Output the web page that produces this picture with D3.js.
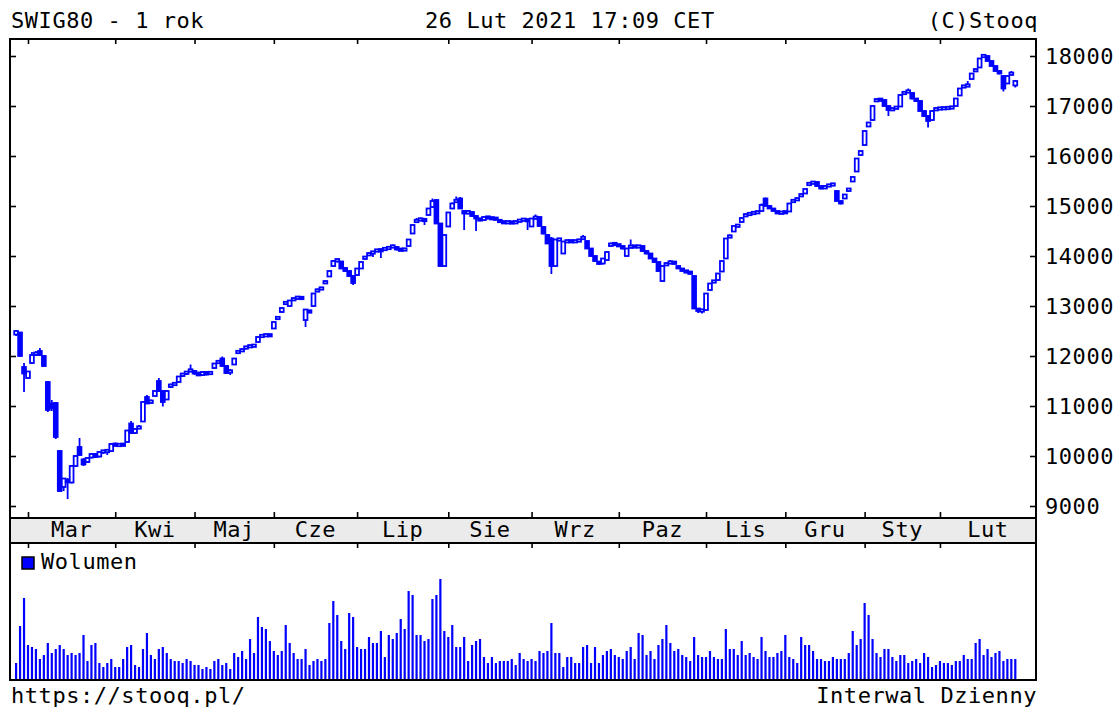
<!DOCTYPE html>
<html>
<head>
<meta charset="utf-8">
<script src="https://cdn.jsdelivr.net/npm/d3@7"></script>
<style>
  body { margin: 0; background: #fff; }
  text { font-family: "DejaVu Sans Mono", monospace; font-size: 22px; letter-spacing: 0.55px; fill: #000; }
</style>
</head>
<body>
<script>
var width = 1117,
    height = 709;

// month labels and the index of the first session in each month
var monthNames = ["Mar", "Kwi", "Maj", "Cze", "Lip", "Sie", "Wrz", "Paz", "Lis", "Gru", "Sty", "Lut"];
var monthStart = [3, 25, 45, 65, 86, 109, 130, 152, 174, 194, 214, 233];
var priceTicks = [9000, 10000, 11000, 12000, 13000, 14000, 15000, 16000, 17000, 18000];

// daily candles [open, high, low, close]
var feb20 = [[12430,12520,12400,12500],[12470,12480,11990,12000],[11780,11860,11280,11650]];
var mar20 = [[11560,11700,11540,11690],[11860,12080,11840,12020],[12030,12100,12000,12060],[12100,12160,12000,12020],
  [12000,12020,11780,11800],[11480,11500,10880,10920],[11050,11120,10900,10960],[11060,11080,10340,10380],
  [10100,10110,9280,9300],[9380,9560,9300,9550],[9520,9560,9140,9480],[9470,9820,9450,9800],
  [9800,10010,9780,10000],[10180,10360,10000,10020],[9930,9960,9800,9830],[9880,9980,9860,9960],
  [9970,10060,9950,10040],[10040,10060,9960,9980],[9990,10090,9970,10080],[10080,10120,10040,10100],
  [10090,10130,10020,10110],[10100,10260,10090,10240]];
var apr20 = [[10240,10270,10190,10210],[10210,10250,10180,10230],[10230,10260,10200,10220],[10280,10520,10270,10510],
  [10650,10700,10440,10460],[10460,10560,10440,10540],[10560,10620,10540,10580],[10690,11090,10680,11080],
  [11180,11220,11040,11050],[11060,11130,11050,11110],[11200,11310,11190,11300],[11500,11560,11280,11300],
  [11300,11320,10990,11080],[11130,11320,11120,11300],[11380,11450,11360,11430],[11430,11470,11400,11450],
  [11480,11600,11470,11590],[11600,11660,11580,11650],[11650,11700,11620,11680],[11700,11830,11680,11720]];
var may20 = [[11700,11720,11620,11650],[11650,11690,11600,11620],[11620,11700,11600,11680],[11680,11700,11610,11630],
  [11640,11700,11620,11680],[11760,11860,11740,11850],[11860,11920,11840,11900],[11950,11990,11780,11800],
  [11800,11820,11640,11660],[11680,11740,11620,11700],[11830,11960,11820,11950],[12060,12120,12040,12100],
  [12100,12150,12080,12130],[12150,12200,12130,12190],[12190,12220,12170,12200],[12200,12230,12180,12210],
  [12280,12390,12270,12380],[12390,12430,12370,12410],[12410,12440,12390,12420],[12420,12440,12390,12410]];
var jun20 = [[12550,12690,12540,12680],[12740,12800,12730,12780],[12880,12970,12870,12960],[13040,13100,13020,13080],
  [13000,13120,12990,13110],[13120,13170,13100,13150],[13150,13200,13130,13180],[13180,13190,13120,13140],
  [12720,12940,12580,12930],[12900,12920,12860,12880],[13000,13260,12990,13250],[13290,13350,13280,13330],
  [13340,13380,13320,13360],[13460,13510,13450,13490],[13590,13710,13580,13700],[13800,13920,13780,13900],
  [13900,13950,13870,13930],[13890,13900,13740,13750],[13760,13780,13680,13700],[13700,13720,13580,13600],
  [13600,13620,13420,13460]];
var jul20 = [[13620,13760,13600,13750],[13750,13890,13740,13880],[13950,14000,13930,13980],[14020,14070,14000,14050],
  [14060,14100,13980,14080],[14100,14140,14080,14120],[14120,14150,13960,14110],[14130,14170,14110,14150],
  [14150,14190,14140,14170],[14180,14230,14160,14200],[14180,14200,14110,14130],[14130,14150,14100,14120],
  [14110,14160,14100,14150],[14200,14340,14190,14330],[14450,14630,14440,14620],[14680,14760,14660,14720],
  [14720,14770,14700,14740],[14740,14760,14620,14700],[14820,14960,14810,14950],[14980,15150,14970,15100],
  [15120,15130,14640,14650],[14650,14660,13790,13800],[13800,14430,13790,14420]];
var aug20 = [[14590,14880,14580,14870],[14950,15070,14940,15050],[15080,15190,15060,15120],[15150,15180,14940,14950],
  [14900,14920,14520,14850],[14850,14920,14830,14900],[14880,14890,14780,14800],[14800,14820,14500,14750],
  [14740,14760,14700,14720],[14720,14800,14710,14780],[14780,14800,14740,14760],[14760,14780,14730,14750],
  [14750,14770,14720,14740],[14720,14730,14660,14680],[14680,14700,14650,14670],[14670,14700,14660,14680],
  [14680,14690,14640,14660],[14660,14710,14650,14690],[14690,14740,14680,14720],[14720,14750,14700,14730],
  [14730,14740,14520,14700]];
var sep20 = [[14590,14760,14580,14750],[14750,14830,14740,14780],[14780,14790,14580,14600],[14580,14600,14430,14450],
  [14420,14440,14240,14250],[14350,14380,13640,13800],[13800,14340,13790,14330],[14330,14360,14300,14330],
  [14050,14300,14040,14290],[14290,14320,14270,14300],[14300,14320,14270,14290],[14290,14320,14280,14300],
  [14300,14340,14290,14320],[14340,14420,14330,14380],[14300,14310,14140,14150],[14150,14160,13990,14000],
  [14000,14010,13890,13900],[13880,13900,13820,13850],[13850,13960,13830,13950],[13920,14090,13910,14080],
  [14200,14270,14190,14250],[14250,14260,14210,14230]];
var oct20 = [[14230,14240,14180,14200],[14200,14210,14130,14150],[14000,14160,13990,14150],[14170,14330,14160,14200],
  [14200,14220,14160,14180],[14180,14220,14170,14200],[14200,14210,14080,14100],[14100,14110,14030,14050],
  [14050,14060,13940,13950],[13950,13960,13860,13880],[13880,13890,13680,13700],[13500,13810,13480,13800],
  [13820,13870,13810,13850],[13860,13920,13850,13880],[13880,13890,13830,13850],[13800,13810,13740,13750],
  [13750,13760,13690,13700],[13700,13720,13670,13680],[13680,13700,13630,13650],[13600,13620,12940,12950],
  [12950,12960,12860,12900],[12900,12940,12850,12920]];
var nov20 = [[12920,13260,12910,13250],[13320,13460,13310,13450],[13480,13520,13470,13500],[13520,13660,13510,13650],
  [13690,13910,13680,13900],[13950,14360,13940,14350],[14380,14430,14360,14400],[14490,14610,14480,14600],
  [14600,14640,14580,14610],[14680,14770,14670,14760],[14800,14850,14790,14830],[14830,14870,14820,14850],
  [14850,14890,14840,14870],[14870,14900,14860,14880],[14900,15050,14890,15020],[15150,15170,14990,15000],
  [15000,15020,14940,14950],[14950,14960,14890,14900],[14900,14910,14840,14850],[14850,14900,14840,14880]];
var dec20 = [[14880,14900,14850,14870],[14890,15060,14880,15050],[15080,15140,15070,15120],[15120,15170,15110,15150],
  [15200,15250,15190,15230],[15250,15350,15240,15340],[15420,15480,15410,15460],[15460,15490,15450,15470],
  [15480,15490,15390,15400],[15400,15410,15330,15350],[15350,15420,15340,15400],[15400,15440,15390,15420],
  [15420,15460,15400,15440],[15300,15310,15090,15100],[15100,15110,15030,15050],[15150,15240,15140,15230],
  [15300,15360,15290,15350],[15490,15590,15480,15580],[15690,15960,15680,15950],[16020,16110,16010,16100]];
var jan21 = [[16220,16510,16210,16500],[16590,16680,16580,16670],[16720,17010,16710,17000],[17100,17150,17080,17130],
  [17130,17160,17100,17120],[17120,17130,16990,17000],[17000,17010,16800,16920],[16920,16970,16900,16950],
  [16950,17000,16940,16980],[16990,17230,16980,17220],[17240,17300,17230,17280],[17280,17350,17270,17300],
  [17260,17270,17130,17150],[17150,17160,17080,17100],[17100,17110,16890,16900],[16900,16910,16780,16800],
  [16800,16820,16570,16700],[16720,16910,16710,16900],[16920,16970,16910,16950]];
var feb21 = [[16950,16970,16930,16950],[16950,16980,16940,16960],[16960,16980,16940,16960],[16960,17000,16950,16980],
  [17000,17160,16990,17150],[17210,17360,17200,17350],[17380,17420,17370,17400],[17400,17500,17390,17420],
  [17540,17660,17530,17650],[17700,17750,17690,17730],[17770,17960,17760,17950],[17980,18040,17970,18020],
  [18000,18010,17890,17900],[17900,17910,17790,17800],[17800,17810,17690,17700],[17700,17720,17630,17650],
  [17600,17610,17290,17350],[17450,17610,17440,17600],[17640,17700,17620,17650],[17410,17510,17370,17500]];

// daily volume (relative units, no scale printed on the chart)
var volume = [16,53,81,34,32,30,20,24,36,26,30,34,30,24,26,24,26,44,18,34,36,16,12,16,20,
  12,12,20,32,34,14,12,30,46,24,20,30,32,26,20,18,18,16,20,18,14,14,10,12,10,18,20,14,16,10,
  26,22,28,20,40,26,62,52,50,38,28,24,28,54,36,26,20,20,30,14,18,20,18,20,56,78,64,38,30,66,
  62,32,30,30,42,36,36,48,22,44,40,46,60,50,88,84,44,44,38,40,80,84,100,48,42,54,32,32,42,18,
  34,38,40,22,16,22,16,18,18,18,20,14,26,20,18,20,18,28,26,28,56,26,26,
  12,22,22,16,16,32,34,16,32,16,24,28,30,24,22,20,28,32,20,46,44,24,28,20,34,40,54,36,28,30,
  24,22,18,42,24,22,22,28,22,20,20,50,30,30,24,38,24,26,22,20,42,28,22,22,26,28,44,22,20,16,
  42,34,34,28,20,20,18,18,22,20,20,20,26,48,34,40,76,64,40,26,22,30,30,22,18,24,24,16,18,20,
  16,26,22,12,14,18,16,16,14,18,18,24,20,20,36,40,24,30,22,26,28,18,20,20,20];

var candles = feb20.concat(mar20, apr20, may20, jun20, jul20, aug20, sep20, oct20, nov20, dec20, jan21, feb21)
  .map(function(d, i) { return {i: i, o: d[0], h: d[1], l: d[2], c: d[3], v: volume[i]}; });

var blue = "#0000ff";
var plotLeft = 10, plotRight = 1036, plotTop = 39, bandTop = 518, bandBottom = 543, plotBottom = 680;

var x = d3.scaleLinear().domain([0, 252]).range([16.1, 1015.3]);
var y = d3.scaleLinear().domain([9000, 18000]).range([506, 56]);
var yv = d3.scaleLinear().domain([0, 100]).range([679, 579]);

var svg = d3.select("body").append("svg")
    .attr("width", width)
    .attr("height", height);

// month band
svg.append("rect")
    .attr("x", plotLeft).attr("y", bandTop)
    .attr("width", plotRight - plotLeft).attr("height", bandBottom - bandTop)
    .attr("fill", "#ebebeb");

// volume bars
svg.append("g").selectAll("rect")
    .data(candles)
    .enter().append("rect")
    .attr("x", function(d) { return x(d.i) - 1.1; })
    .attr("width", 2.2)
    .attr("y", function(d) { return yv(d.v); })
    .attr("height", function(d) { return yv(0) - yv(d.v); })
    .attr("fill", blue);

// candles: hollow when the session closed up, filled when down
var cg = svg.append("g");
cg.selectAll("line")
    .data(candles)
    .enter().append("line")
    .attr("x1", function(d) { return x(d.i); })
    .attr("x2", function(d) { return x(d.i); })
    .attr("y1", function(d) { return y(d.h); })
    .attr("y2", function(d) { return y(d.l); })
    .attr("stroke", blue)
    .attr("stroke-width", 1.8);
cg.selectAll("rect")
    .data(candles)
    .enter().append("rect")
    .attr("x", function(d) { return x(d.i) - 1.9; })
    .attr("width", 3.8)
    .attr("y", function(d) { return Math.min(y(Math.max(d.o, d.c)), (y(d.o) + y(d.c)) / 2 - 1.2); })
    .attr("height", function(d) { return Math.max(2.4, Math.abs(y(d.o) - y(d.c))); })
    .attr("fill", function(d) { return d.c >= d.o ? "#fff" : blue; })
    .attr("stroke", blue)
    .attr("stroke-width", 1.8);

// frame
var frame = svg.append("g").attr("fill", "none").attr("stroke", "#000").attr("stroke-width", 2);
frame.append("rect").attr("x", plotLeft).attr("y", plotTop).attr("width", plotRight - plotLeft).attr("height", plotBottom - plotTop);
frame.append("line").attr("x1", plotLeft).attr("x2", plotRight).attr("y1", bandTop).attr("y2", bandTop);
frame.append("line").attr("x1", plotLeft).attr("x2", plotRight).attr("y1", bandBottom).attr("y2", bandBottom);

// month ticks
function monthTicks(axis, ypos, size) {
  var g = svg.append("g")
      .attr("transform", "translate(0," + ypos + ")")
      .call(axis(x).tickValues(monthStart).tickSize(size).tickFormat(""));
  g.select(".domain").remove();
  g.selectAll("line").attr("stroke", "#000").attr("stroke-width", 1.6);
}
monthTicks(d3.axisBottom, plotTop, 5);
monthTicks(d3.axisTop, bandTop, 6);
monthTicks(d3.axisBottom, bandBottom, 5);

// month labels, centred between month boundaries
svg.append("g").selectAll("text")
    .data(monthNames)
    .enter().append("text")
    .attr("x", function(d, k) {
      var a = x(monthStart[k]);
      var b = k < monthStart.length - 1 ? x(monthStart[k + 1]) : plotRight;
      return (a + b) / 2;
    })
    .attr("y", 537)
    .attr("text-anchor", "middle")
    .text(function(d) { return d; });

// price axis: labels on the right, ticks inside on both sides
var ya = svg.append("g")
    .attr("transform", "translate(" + plotRight + ",0)")
    .call(d3.axisRight(y).tickValues(priceTicks).tickSize(-6).tickPadding(9).tickFormat(d3.format("d")));
ya.select(".domain").remove();
ya.selectAll("line").attr("stroke", "#000").attr("stroke-width", 1.6);
ya.selectAll("text").attr("font-family", null).attr("font-size", null).attr("fill", "#000");

var yl = svg.append("g")
    .attr("transform", "translate(" + plotLeft + ",0)")
    .call(d3.axisLeft(y).tickValues(priceTicks).tickSize(-6).tickFormat(""));
yl.select(".domain").remove();
yl.selectAll("line").attr("stroke", "#000").attr("stroke-width", 1.6);

// header and footer
svg.append("text").attr("x", 11).attr("y", 28).text("SWIG80 - 1 rok");
svg.append("text").attr("x", 425).attr("y", 28).text("26 Lut 2021 17:09 CET");
svg.append("text").attr("x", 1038).attr("y", 28).attr("text-anchor", "end").text("(C)Stooq");
svg.append("text").attr("x", 11).attr("y", 703).text("https://stooq.pl/");
svg.append("text").attr("x", 1037).attr("y", 703).attr("text-anchor", "end").text("Interwal Dzienny");

// volume legend
svg.append("rect")
    .attr("x", 22).attr("y", 557).attr("width", 12).attr("height", 12)
    .attr("fill", blue).attr("stroke", "#000").attr("stroke-width", 1.5);
svg.append("text").attr("x", 41).attr("y", 569).text("Wolumen");
</script>
</body>
</html>
